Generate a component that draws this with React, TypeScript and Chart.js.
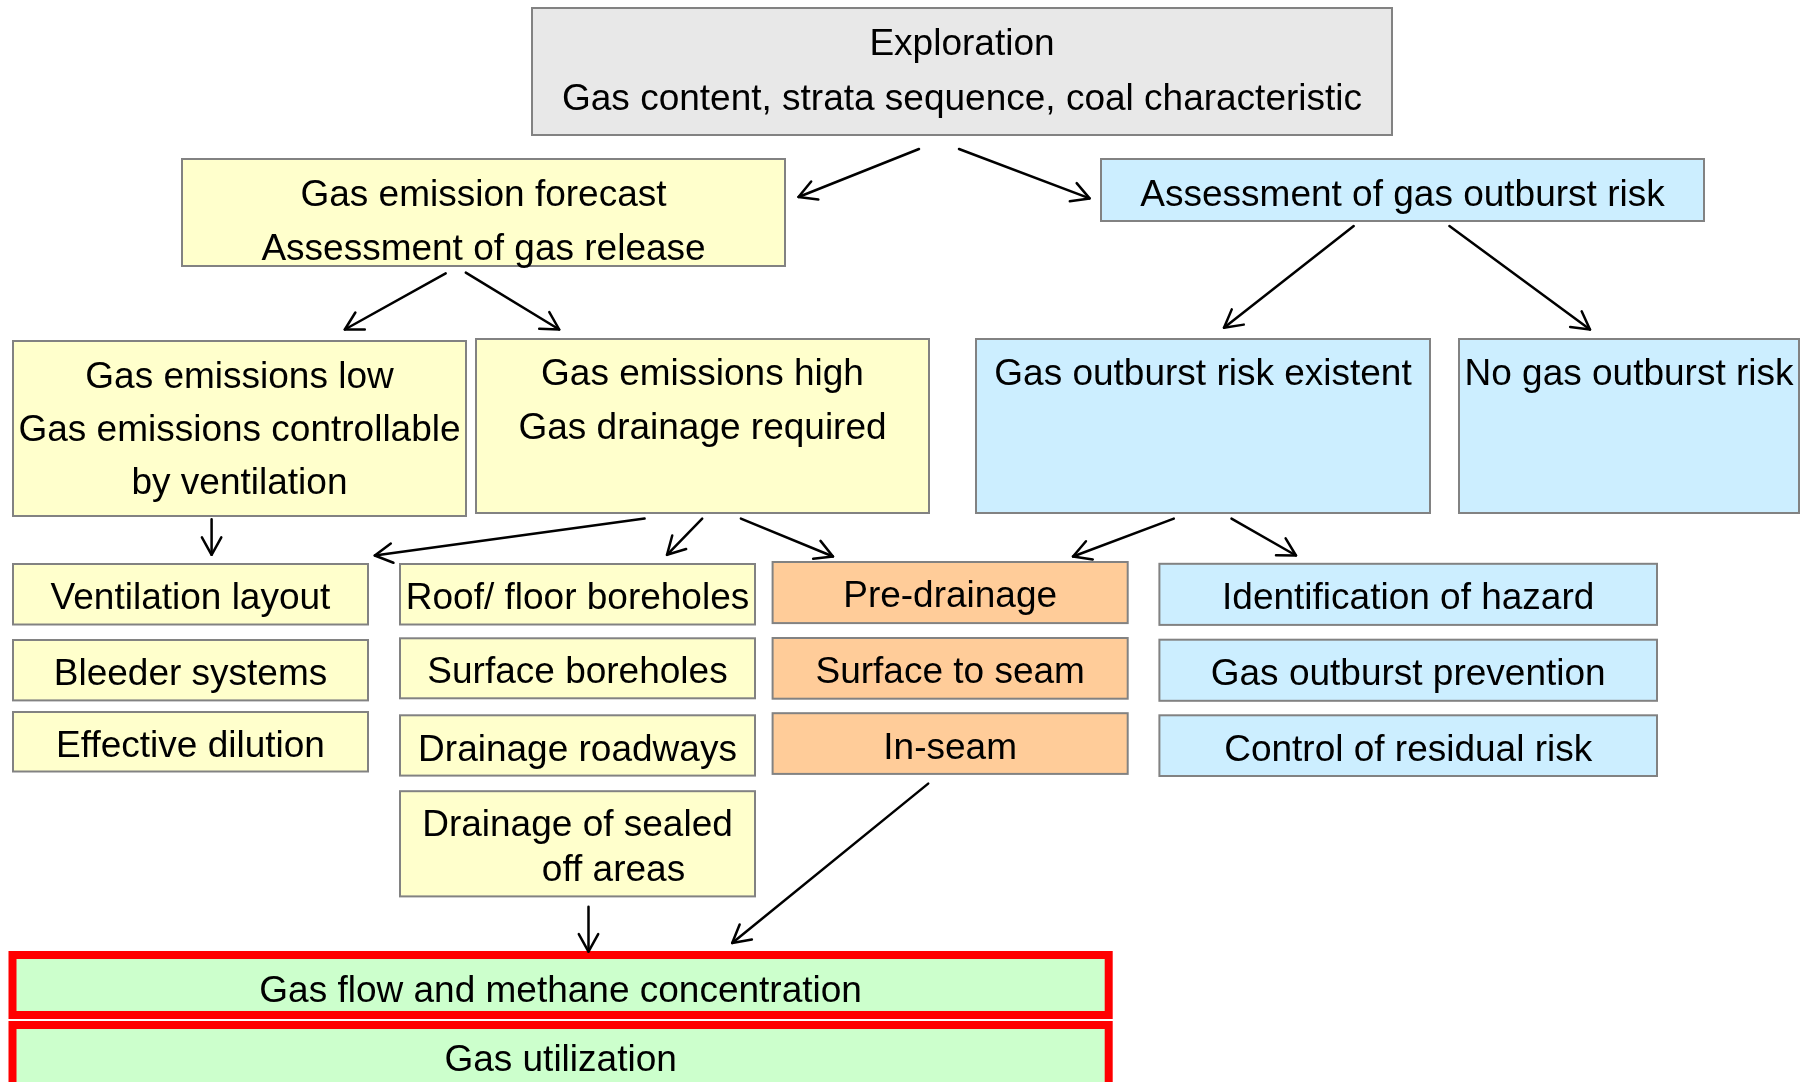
import React, { useEffect, useRef } from "react";
import { Chart, registerables } from "chart.js";

Chart.register(...registerables);

const CANVAS_W = 1808;
const CANVAS_H = 1082;

// ---- content (texts of the flowchart nodes) ----
const nodeTexts: string[][] = [
  ["Exploration", "Gas content, strata sequence, coal characteristic"],
  ["Gas emission forecast", "Assessment of gas release"],
  ["Assessment of gas outburst risk"],
  ["Gas emissions low", "Gas emissions controllable", "by ventilation"],
  ["Gas emissions high", "Gas drainage required"],
  ["Gas outburst risk existent"],
  ["No gas outburst risk"],
  ["Ventilation layout"],
  ["Bleeder systems"],
  ["Effective dilution"],
  ["Roof/ floor boreholes"],
  ["Surface boreholes"],
  ["Drainage roadways"],
  ["Drainage of sealed", "       off areas"],
  ["Pre-drainage"],
  ["Surface to seam"],
  ["In-seam"],
  ["Identification of hazard"],
  ["Gas outburst prevention"],
  ["Control of residual risk"],
  ["Gas flow and methane concentration"],
  ["Gas utilization"],
];

// category of each node (drives the colour)
const nodeGroups: string[] = [
  "start",
  "emission",
  "outburst",
  "emission",
  "emission",
  "outburst",
  "outburst",
  "emission",
  "emission",
  "emission",
  "emission",
  "emission",
  "emission",
  "emission",
  "drain",
  "drain",
  "drain",
  "outburst",
  "outburst",
  "outburst",
  "result",
  "result",
];

// ---- layout (chart-value coordinates: x0, y0, x1, y1, first baseline, line gap) ----
const nodeLayout: number[][] = [
  [532, 8, 1392, 135, 55, 55],
  [182, 159, 785, 266, 206, 54],
  [1101, 159, 1704, 221, 206, 0],
  [13, 341, 466, 516, 388, 53],
  [476, 339, 929, 513, 385, 54],
  [976, 339, 1430, 513, 385, 0],
  [1459, 339, 1799, 513, 385, 0],
  [13, 564, 368, 624.5, 608.5, 0],
  [13, 640, 368, 700.4, 684.5, 0],
  [13, 712, 368, 771.5, 757, 0],
  [400, 564, 755, 624.5, 608.5, 0],
  [400, 638.3, 755, 698.3, 683, 0],
  [400, 715.3, 755, 775.6, 760.5, 0],
  [400, 791.2, 755, 896.4, 836, 45],
  [772.6, 562, 1127.7, 623.1, 607, 0],
  [772.6, 638, 1127.7, 698.7, 683, 0],
  [772.6, 713.2, 1127.7, 773.9, 759, 0],
  [1159.4, 563.8, 1657, 624.9, 609, 0],
  [1159.4, 639.7, 1657, 700.8, 684.5, 0],
  [1159.4, 715.3, 1657, 776, 760.5, 0],
  [12.5, 955, 1108.7, 1015, 1001.5, 0],
  [12.5, 1025, 1108.7, 1110, 1071, 0],
];

// arrows: start x, start y, end x, end y
const arrowSegments: number[][] = [
  [919, 149, 798.5, 197],
  [959, 149, 1089.6, 198.4],
  [445.7, 273.3, 344.8, 329.5],
  [465.8, 272.6, 559.2, 329.5],
  [1353.7, 226, 1224, 327.8],
  [1449.4, 226, 1590, 329.5],
  [211.6, 519.3, 211.6, 554.8],
  [644.6, 518.6, 374.8, 555.5],
  [702.2, 518.6, 667, 554.8],
  [740.9, 518.6, 833, 556.5],
  [1173.8, 518.6, 1073, 556.5],
  [1231.5, 518.6, 1296, 555.5],
  [588.5, 906.8, 588.5, 951.6],
  [928.2, 783.6, 732.2, 943],
];

// ---- styles ----
const groupStyle: Record<string, { fill: string; stroke: string; width: number }> = {
  start: { fill: "#e8e8e8", stroke: "#828282", width: 2 },
  emission: { fill: "#ffffcc", stroke: "#828282", width: 2 },
  outburst: { fill: "#cceeff", stroke: "#828282", width: 2 },
  drain: { fill: "#ffcc99", stroke: "#828282", width: 2 },
  result: { fill: "#ccffcc", stroke: "#ff0000", width: 8 },
};
const FONT = '37px "Liberation Sans", Arial, Helvetica, sans-serif';

const boxesPlugin = {
  id: "flowBoxes",
  beforeDatasetsDraw(chart: any) {
    const { ctx, scales } = chart;
    const xs = scales.x;
    const ys = scales.y;
    ctx.save();
    nodeLayout.forEach((lay, i) => {
      const st = groupStyle[nodeGroups[i]];
      const x0 = xs.getPixelForValue(lay[0]);
      const x1 = xs.getPixelForValue(lay[2]);
      const y0 = ys.getPixelForValue(lay[1]);
      const y1 = ys.getPixelForValue(lay[3]);
      ctx.fillStyle = st.fill;
      ctx.fillRect(x0, y0, x1 - x0, y1 - y0);
      ctx.strokeStyle = st.stroke;
      ctx.lineWidth = st.width;
      ctx.strokeRect(x0, y0, x1 - x0, y1 - y0);
      ctx.fillStyle = "#000000";
      ctx.font = FONT;
      ctx.textAlign = "center";
      ctx.textBaseline = "alphabetic";
      const cx = (x0 + x1) / 2;
      nodeTexts[i].forEach((line, j) => {
        const by = ys.getPixelForValue(lay[4] + j * lay[5]);
        ctx.fillText(line, cx, by);
      });
    });
    ctx.restore();
  },
};

const arrowHeadPlugin = {
  id: "arrowHeads",
  afterDatasetsDraw(chart: any) {
    const { ctx, scales } = chart;
    const xs = scales.x;
    const ys = scales.y;
    ctx.save();
    ctx.strokeStyle = "#000000";
    ctx.lineWidth = 2.5;
    ctx.lineCap = "round";
    ctx.lineJoin = "round";
    const len = 20;
    const half = (29 * Math.PI) / 180;
    arrowSegments.forEach((a) => {
      const sx = xs.getPixelForValue(a[0]);
      const sy = ys.getPixelForValue(a[1]);
      const ex = xs.getPixelForValue(a[2]);
      const ey = ys.getPixelForValue(a[3]);
      const ang = Math.atan2(sy - ey, sx - ex);
      ctx.beginPath();
      ctx.moveTo(ex + len * Math.cos(ang + half), ey + len * Math.sin(ang + half));
      ctx.lineTo(ex, ey);
      ctx.lineTo(ex + len * Math.cos(ang - half), ey + len * Math.sin(ang - half));
      ctx.stroke();
    });
    ctx.restore();
  },
};

export default function App() {
  const canvasRef = useRef<HTMLCanvasElement | null>(null);

  useEffect(() => {
    const canvas = canvasRef.current;
    if (!canvas) return;
    const datasets = arrowSegments.map((a) => ({
      data: [
        { x: a[0], y: a[1] },
        { x: a[2], y: a[3] },
      ],
      showLine: true,
      borderColor: "#000000",
      borderWidth: 2.5,
      borderCapStyle: "round" as const,
      pointRadius: 0,
      pointHoverRadius: 0,
      clip: false as any,
    }));
    const chart = new Chart(canvas, {
      type: "scatter",
      data: { datasets },
      options: {
        animation: false,
        responsive: false,
        maintainAspectRatio: false,
        devicePixelRatio: 1,
        events: [],
        layout: { padding: 0 },
        plugins: {
          legend: { display: false },
          tooltip: { enabled: false },
          title: { display: false },
        },
        scales: {
          x: { type: "linear", min: 0, max: CANVAS_W, display: false },
          y: { type: "linear", min: 0, max: CANVAS_H, reverse: true, display: false },
        },
      },
      plugins: [boxesPlugin, arrowHeadPlugin],
    });
    return () => chart.destroy();
  }, []);

  return (
    <div
      style={{
        position: "fixed",
        left: 0,
        top: 0,
        width: CANVAS_W,
        height: CANVAS_H,
        background: "#ffffff",
        overflow: "hidden",
      }}
    >
      <canvas
        ref={canvasRef}
        width={CANVAS_W}
        height={CANVAS_H}
        style={{ width: CANVAS_W, height: CANVAS_H, display: "block" }}
      />
    </div>
  );
}
